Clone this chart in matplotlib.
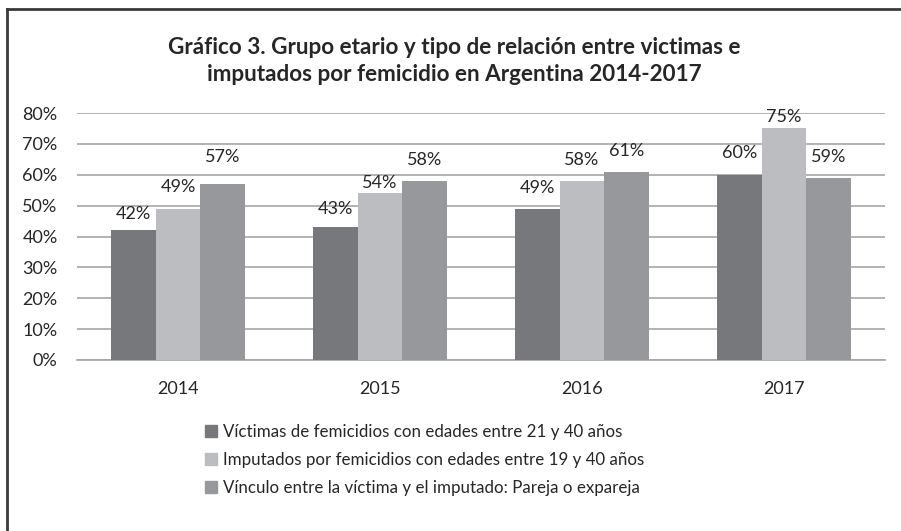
import matplotlib
matplotlib.use("Agg")
import matplotlib.pyplot as plt
import numpy as np
from matplotlib.lines import Line2D

years = ["2014", "2015", "2016", "2017"]
series_names = [
    "Víctimas de femicidios con edades entre 21 y 40 años",
    "Imputados por femicidios con edades entre 19 y 40 años",
    "Vínculo entre la víctima y el imputado: Pareja o expareja",
]
victimas = [42, 43, 49, 60]
imputados = [49, 54, 58, 75]
vinculo = [57, 58, 61, 59]
yticks = [0, 10, 20, 30, 40, 50, 60, 70, 80]
title = "Gráfico 3. Grupo etario y tipo de relación entre victimas e\nimputados por femicidio en Argentina 2014-2017"

colors = ["#77787c", "#bcbdc0", "#97989c"]
# label offsets above bar top (pixels), per series
label_off_px = [[16, 18, 21, 22], [22, 10, 21, 11], [27, 21, 21, 21]]

plt.rcParams['font.family'] = ['Lato', 'DejaVu Sans']

fig = plt.figure(figsize=(9.01, 5.31), dpi=100)
ax = fig.add_axes([77/901, 1-360/531, 808/901, 247/531])

x = np.arange(len(years))
w = 0.222
data = [victimas, imputados, vinculo]
for i, (vals, c) in enumerate(zip(data, colors)):
    pos = x + (i - 1) * w
    ax.bar(pos, vals, width=w, color=c, zorder=3, label=series_names[i])
    for j, (p, v) in enumerate(zip(pos, vals)):
        ax.annotate(f"{v}%", (p, v), xytext=(0, label_off_px[i][j] * 0.72),
                    textcoords="offset points", ha="center", va="center",
                    fontsize=13, color="#262626")

ax.set_xlim(-0.5, 3.5)
ax.set_ylim(0, 80)
ax.set_yticks(yticks)
ax.set_yticklabels([f"{t}%" for t in yticks], fontsize=13, color="#262626")
ax.set_xticks(x)
ax.set_xticklabels(years, fontsize=13, color="#262626")
ax.tick_params(axis="y", length=0, pad=14)
ax.tick_params(axis="x", length=0, pad=15)
ax.grid(axis="y", color="#a6a6a6", linewidth=1.2, zorder=0)
for s in ["left", "right", "top"]:
    ax.spines[s].set_visible(False)
ax.spines["bottom"].set_color("#a6a6a6")
ax.spines["bottom"].set_linewidth(1.2)

fig.text(454/901, 1-61/531, title, ha="center", va="center", fontsize=16.2,
         fontweight="bold", color="#262626", linespacing=1.4)

handles = [plt.Rectangle((0, 0), 1, 1, color=c) for c in colors]
leg = fig.legend(handles, series_names, loc="center left",
                 bbox_to_anchor=(190/901, 1-460/531), frameon=False,
                 fontsize=12.2, handlelength=0.7, handleheight=0.7,
                 handletextpad=0.35, labelspacing=0.72)
for t in leg.get_texts():
    t.set_color("#262626")

# frame lines (top and left)
fig.add_artist(Line2D([7/901, 1], [1-9/531, 1-9/531], color="#3a3a3a", linewidth=2,
                      transform=fig.transFigure))
fig.add_artist(Line2D([7/901, 7/901], [0, 1-9/531], color="#3a3a3a", linewidth=2,
                      transform=fig.transFigure))

fig.savefig("out.png", dpi=100)
